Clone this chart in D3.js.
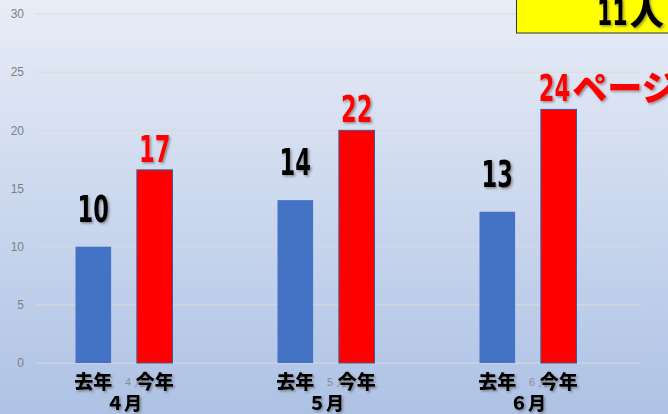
<!DOCTYPE html>
<html>
<head>
<meta charset="utf-8">
<script src="https://cdn.jsdelivr.net/npm/d3@7"></script>
<style>
  html, body { margin: 0; padding: 0; overflow: hidden; }
  svg { display: block; }
</style>
</head>
<body>
<div id="chart"></div>
<script>
// data
const months = ["4月", "5月", "6月"];
const monthLabels = ["４月", "５月", "６月"];
const seriesNames = ["去年", "今年"];
const lastYear = [10, 14, 13];
const thisYear = [16.6, 20, 21.8];
const lastYearLabels = ["10", "14", "13"];
const thisYearLabels = ["17", "22", "24ページ"];
const yTicks = [0, 5, 10, 15, 20, 25, 30];
const boxText = "11人";

const width = 668, height = 414;
const margin = {top: 14, right: 27, bottom: 51, left: 36};

const svg = d3.select("#chart").append("svg")
    .attr("width", width)
    .attr("height", height);

const defs = svg.append("defs");
const grad = defs.append("linearGradient")
    .attr("id", "bg").attr("x1", 0).attr("y1", 0).attr("x2", 0).attr("y2", 1);
grad.append("stop").attr("offset", "0%").attr("stop-color", "#e8edf7");
grad.append("stop").attr("offset", "100%").attr("stop-color", "#aec2e5");

const shadow = defs.append("filter").attr("id", "shadow")
    .attr("x", "-20%").attr("y", "-20%").attr("width", "150%").attr("height", "150%");
shadow.append("feDropShadow")
    .attr("dx", 1.5).attr("dy", 1.5).attr("stdDeviation", 1.2)
    .attr("flood-color", "#555").attr("flood-opacity", 0.6);

svg.append("rect").attr("width", width).attr("height", height).attr("fill", "url(#bg)");

const yScale = d3.scaleLinear()
    .domain([0, 30])
    .range([height - margin.bottom, margin.top]);

const xScale = d3.scaleBand()
    .domain(months)
    .range([23, 629]);

const xInner = d3.scaleBand()
    .domain(seriesNames)
    .range([0, 97])
    .paddingInner(0.42);

const groupLeft = m => xScale(m) + xScale.bandwidth() / 2 - 48.5;
const barCenter = (m, s) => groupLeft(m) + xInner(s) + xInner.bandwidth() / 2;

// gridlines
svg.append("g").selectAll("line")
    .data(yTicks)
    .enter().append("line")
    .attr("x1", margin.left)
    .attr("x2", width - margin.right)
    .attr("y1", d => yScale(d))
    .attr("y2", d => yScale(d))
    .attr("stroke", "#d9d9d9")
    .attr("stroke-width", 1);

// y tick labels
svg.append("g").selectAll("text")
    .data(yTicks)
    .enter().append("text")
    .attr("x", 24)
    .attr("y", d => yScale(d))
    .attr("dy", "0.35em")
    .attr("text-anchor", "end")
    .attr("font-family", "Liberation Sans, Arial, sans-serif")
    .attr("font-size", 12)
    .attr("fill", "#7f7f7f")
    .text(d => d);

// bars
const rows = months.map((m, i) => ({m: m, last: lastYear[i], cur: thisYear[i], lastLabel: lastYearLabels[i], curLabel: thisYearLabels[i]}));

svg.append("g").selectAll("rect")
    .data(rows)
    .enter().append("rect")
    .attr("x", d => groupLeft(d.m) + xInner("去年"))
    .attr("y", d => yScale(d.last))
    .attr("width", xInner.bandwidth())
    .attr("height", d => yScale(0) - yScale(d.last))
    .attr("fill", "#4472c4");

svg.append("g").selectAll("rect")
    .data(rows)
    .enter().append("rect")
    .attr("x", d => groupLeft(d.m) + xInner("今年"))
    .attr("y", d => yScale(d.cur))
    .attr("width", xInner.bandwidth())
    .attr("height", d => yScale(0) - yScale(d.cur))
    .attr("fill", "#ff0000")
    .attr("stroke", "#3d5a96")
    .attr("stroke-width", 1);

// original category tick labels (mostly hidden behind the series labels)
svg.append("g").selectAll("text")
    .data(months)
    .enter().append("text")
    .attr("x", d => xScale(d) + xScale.bandwidth() / 2 + 11)
    .attr("y", 386)
    .attr("text-anchor", "middle")
    .attr("font-family", "Liberation Sans, Arial, sans-serif")
    .attr("font-size", 11)
    .attr("fill", "#8c8c8c")
    .text(d => d.replace("月", " 月"));

// big condensed label: digits squeezed, trailing kana at normal width
const digitFont = "'DejaVu Sans Condensed', 'DejaVu Sans', sans-serif";
const kanaFont = "'Noto Sans CJK JP', sans-serif";
const squeeze = 0.68;
function bigLabel(parent, str, cx, baseline, color, size) {
    const num = str.match(/^[0-9]+/)[0];
    const rest = str.slice(num.length);
    const g = parent.append("g").attr("filter", "url(#shadow)");
    const t = g.append("text")
        .attr("font-family", digitFont)
        .attr("font-weight", "bold")
        .attr("font-size", size)
        .attr("fill", color)
        .text(num);
    const w = t.node().getComputedTextLength() * squeeze;
    // labels with a suffix start a little left of the bar centre, others are centred
    const x0 = rest ? cx - 20 : cx - w / 2;
    t.attr("transform", `translate(${x0},${baseline}) scale(${squeeze},1)`);
    if (rest) {
        g.append("text")
            .attr("x", x0 + w + 2)
            .attr("y", baseline)
            .attr("font-family", kanaFont)
            .attr("font-weight", 900)
            .attr("font-size", size * 0.95)
            .attr("fill", color)
            .text(rest);
    }
    return g;
}

const labelG = svg.append("g");
rows.forEach(d => {
    bigLabel(labelG, d.lastLabel, barCenter(d.m, "去年"), yScale(d.last) - 25, "#000", 37);
    bigLabel(labelG, d.curLabel, barCenter(d.m, "今年"), yScale(d.cur) - 8, "#ff0000", 37);
});

// series labels under bars
const labelFont = "'Noto Sans CJK JP', sans-serif";
months.forEach(m => {
    svg.append("g").selectAll("text")
        .data(seriesNames)
        .enter().append("text")
        .attr("x", s => barCenter(m, s))
        .attr("y", 389)
        .attr("text-anchor", "middle")
        .attr("font-family", labelFont)
        .attr("font-weight", 900)
        .attr("font-size", 19)
        .attr("fill", "#000")
        .attr("filter", "url(#shadow)")
        .text(s => s);
});

// month labels
svg.append("g").selectAll("text")
    .data(months)
    .enter().append("text")
    .attr("x", d => xScale(d) + xScale.bandwidth() / 2)
    .attr("y", 410)
    .attr("text-anchor", "middle")
    .attr("font-family", labelFont)
    .attr("font-weight", 900)
    .attr("font-size", 18)
    .attr("fill", "#000")
    .attr("filter", "url(#shadow)")
    .text((d, i) => monthLabels[i]);

// yellow callout box
svg.append("rect")
    .attr("x", 516.5)
    .attr("y", -5)
    .attr("width", 170)
    .attr("height", 38)
    .attr("fill", "#ffff00")
    .attr("stroke", "#333")
    .attr("stroke-width", 1);

bigLabel(svg, boxText, 617, 25, "#000", 36);
</script>
</body>
</html>
